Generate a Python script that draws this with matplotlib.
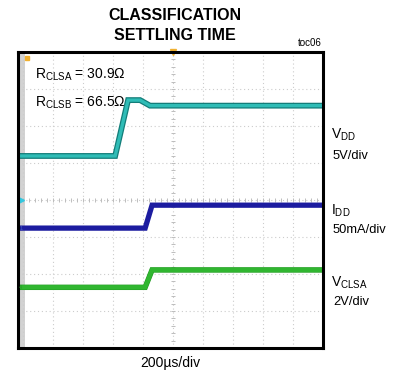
import matplotlib.pyplot as plt
import matplotlib.patheffects as pe

plt.rcParams['font.family'] = ['Liberation Sans', 'DejaVu Sans']
plt.rcParams['mathtext.fontset'] = 'custom'
plt.rcParams['mathtext.rm'] = 'Liberation Sans'
plt.rcParams['mathtext.it'] = 'Liberation Sans'

# ---- trace data (time in divisions from centre, level in divisions) ----
vdd_t = [-5.17, -1.93, -1.50, -1.10, -0.77, 5.0]
vdd_v = [1.19, 1.19, 2.70, 2.70, 2.55, 2.55]

idd_t = [-5.17, -0.93, -0.70, 5.0]
idd_v = [-0.76, -0.76, -0.14, -0.14]

vclsa_t = [-5.17, -0.93, -0.70, 5.0]
vclsa_v = [-2.36, -2.36, -1.89, -1.89]

channel_labels = [r'V$_{\mathrm{DD}}$', r'I$_{\mathrm{DD}}$', r'V$_{\mathrm{CLSA}}$']
channel_scales = ['5V/div', '50mA/div', '2V/div']

fig = plt.figure(figsize=(3.97, 3.75), dpi=100)
ax = fig.add_axes([18 / 397, 27 / 375, 305 / 397, 296 / 375])
ax.set_xlim(-5.17, 5.0)
ax.set_ylim(-4, 4)

# dotted scope graticule
ax.set_xticks(range(-5, 6))
ax.set_yticks(range(-4, 5))
ax.grid(True, color='#cccccc', linestyle=(0, (1, 2.5)), linewidth=0.8)
ax.tick_params(length=0, labelbottom=False, labelleft=False)
for s in ax.spines.values():
    s.set_linewidth(2.2)
    s.set_color('black')

# small division marks along the centre lines
minor_x = [i / 5 for i in range(-25, 26)]
minor_y = [i / 5 for i in range(-20, 21)]
ax.plot(minor_x, [0] * len(minor_x), ls='none', marker='|', ms=3, color='#bdbdbd', mew=0.7)
ax.plot([0] * len(minor_y), minor_y, ls='none', marker='_', ms=3, color='#bdbdbd', mew=0.7)

# grey strip at the left edge
ax.axvspan(-5.17, -4.95, color='#d2d2d2', lw=0)

# traces
ax.plot(vdd_t, vdd_v, color='#2fbcb6', lw=2.4, solid_joinstyle='miter',
        path_effects=[pe.Stroke(linewidth=4.2, foreground='#137d79'), pe.Normal()])
ax.plot(idd_t, idd_v, color='#1c1ca0', lw=3.8, solid_joinstyle='miter')
ax.plot(vclsa_t, vclsa_v, color='#30b630', lw=3.2, solid_joinstyle='miter',
        path_effects=[pe.Stroke(linewidth=3.9, foreground='#1f9a1f'), pe.Normal()])

# scope markers
ax.plot([-4.87], [3.84], marker='s', ms=3, color='#f0b030', clip_on=False)
ax.plot([0], [4.0], marker='v', ms=4, color='#f0b030', clip_on=False)
ax.plot([-5.08], [0], marker='>', ms=5, color='#33c8e0', clip_on=False)
ax.text(-5.08, -0.76, '1', fontsize=4, color='#4060c0', ha='center', va='center')
ax.text(-5.08, -2.36, '4', fontsize=4, color='#2a9a2a', ha='center', va='center')

ax.text(-4.6, 3.38, r'R$_{\mathrm{CLSA}}$ = 30.9Ω', fontsize=10, va='center')
ax.text(-4.6, 2.62, r'R$_{\mathrm{CLSB}}$ = 66.5Ω', fontsize=10, va='center')

# title and captions in figure pixels
fig.text(175 / 397, 1 - 15 / 375, 'CLASSIFICATION', fontsize=11.5, fontweight='bold',
         ha='center', va='center')
fig.text(175 / 397, 1 - 36 / 375, 'SETTLING TIME', fontsize=11.5, fontweight='bold',
         ha='center', va='center')
fig.text(310 / 397, 1 - 43 / 375, 'toc06', fontsize=7, ha='center', va='center')
fig.text(170 / 397, 1 - 363 / 375, '200µs/div', fontsize=10, ha='center', va='center')

label_y = [135, 211, 283]
scale_y = [156, 230, 302]
for name, scale, ly, sy in zip(channel_labels, channel_scales, label_y, scale_y):
    fig.text(331 / 397, 1 - ly / 375, name, fontsize=10, ha='left', va='center')
    fig.text(333 / 397, 1 - sy / 375, scale, fontsize=9.3, ha='left', va='center')

fig.savefig('out.png', dpi=100)
